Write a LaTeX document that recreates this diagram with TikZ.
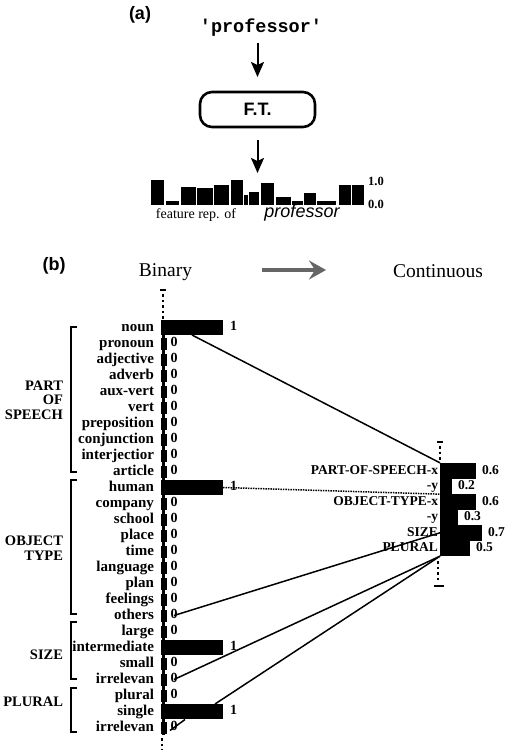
\documentclass[tikz,border=0pt]{standalone}
\usepackage{fontspec}
\setmainfont{Liberation Serif}
\setmonofont{Liberation Mono}
\newfontfamily\sansf{Liberation Sans}
\usetikzlibrary{arrows.meta}
\begin{document}
\begin{tikzpicture}[x=1pt,y=-1pt,
  every node/.style={inner sep=0pt,outer sep=0pt},
  rowlab/.style={anchor=east,font=\bfseries\fontsize{15}{15}\selectfont,text height=10pt,text depth=3pt},
  vallab/.style={anchor=west,font=\bfseries\fontsize{14}{14}\selectfont,text height=9.5pt,text depth=3pt},
  grplab/.style={anchor=east,align=right,font=\bfseries\fontsize{14.5}{14.5}\selectfont},
  onebar/.style={anchor=west,fill=black,minimum width=62pt,minimum height=15pt},
  zerobar/.style={anchor=west,fill=black,minimum width=5.5pt,minimum height=12pt},
  rbar/.style={anchor=west,fill=black,minimum height=15.8pt},
  rlab/.style={anchor=east,font=\bfseries\fontsize{13.5}{13.5}\selectfont,text height=9pt,text depth=2.5pt},
  rval/.style={anchor=west,font=\bfseries\fontsize{13.5}{14}\selectfont,text height=9pt,text depth=2pt},
  conn/.style={line width=1.5pt,black},
  bracketline/.style={line width=2pt,black},
  dotaxis/.style={line width=2.2pt,dash pattern=on 2.5pt off 3pt},
  arr/.style={line width=2pt,-{Stealth[length=15pt,width=13pt,inset=3pt]}},
  title/.style={font=\fontsize{19.5}{20}\selectfont},
  plab/.style={font=\sansf\bfseries\fontsize{18}{18}\selectfont}
]
\useasboundingbox (0,0) rectangle (506,750);
\fill[white] (0,0) rectangle (506,750);

% ---------------- (a) ----------------
\node[plab] (alab) at (140,15) {(a)};
\node[font=\ttfamily\bfseries\fontsize{18.5}{19}\selectfont,text height=12pt,text depth=4pt] (word) at (261,28) {'professor'};
\node[draw,line width=2.6pt,rounded corners=12pt,minimum width=115pt,minimum height=35pt,
      font=\sansf\bfseries\fontsize{18}{18}\selectfont] (ft) at (257.5,109.5) {F.T.};
\coordinate (feat) at (258,179);
\draw[arr,shorten <=7pt,shorten >=15pt] (word.south -| ft.north) -- (ft.north);
\draw[arr,shorten <=13pt,shorten >=6pt] (ft.south) -- (ft.south |- feat);
\foreach \xa/\xb/\h in {150/165/1.0,165/180/0.16,180/196.7/0.7,196.7/213.3/0.65,213.3/230/0.78,
  230/243.3/1.0,243.3/248.3/0.37,248.3/260/0.5,260/275/0.87,275/291.7/0.3,291.7/303.3/0.16,
  303.3/316.7/0.45,316.7/336.7/0.16,338.3/351.7/0.78,351.7/365/0.78}
  \fill ({\xa+0.6},204.5) rectangle ({\xb-0.6},{204.5-25*\h});
\node[font=\bfseries\fontsize{12.5}{12.5}\selectfont] (one) at (376,181) {1.0};
\node[font=\bfseries\fontsize{12.5}{12.5}\selectfont] (zero) at (376,204) {0.0};
\node[font=\fontsize{14}{14}\selectfont] (frep) at (196,215) {feature rep. of};
\node[font=\sansf\itshape\fontsize{18}{18}\selectfont] (fword) at (302,213) {professor};

% ---------------- (b) ----------------
\node[plab] (blab) at (54,266) {(b)};
\node[title] (bin) at (165.5,272) {Binary};
\node[title] (cont) at (438,271) {Continuous};
\coordinate (ga1) at (262,270);
\coordinate (ga2) at (326,270);
\draw[line width=4.5pt,black!60,-{Stealth[length=17pt,width=19pt,inset=6pt]}] (ga1) -- (ga2);

% left axis
\draw[dotaxis] (163,294) -- (163,320);
\draw[line width=2pt] (160,290) -- (166,290);
\draw[line width=3.2pt] (163.5,320) -- (163.5,735);
\draw[dotaxis] (162,738) -- (162,752);

\foreach \i/\t/\v in {0/noun/1,1/pronoun/0,2/adjective/0,3/adverb/0,4/aux-vert/0,5/vert/0,
  6/preposition/0,7/conjunction/0,8/interjectior/0,9/article/0,10/human/1,11/company/0,
  12/school/0,13/place/0,14/time/0,15/language/0,16/plan/0,17/feelings/0,18/others/0,
  19/large/0,20/intermediate/1,21/small/0,22/irrelevan/0,23/plural/0,24/single/1,25/irrelevan/0}{
  \node[rowlab] (l\i) at (154,{327.5+16*\i}) {\t};
  \ifnum\v=1
    \node[onebar] (b\i) at (161,{327.5+16*\i}) {};
    \node[vallab,xshift=7pt] (v\i) at (b\i.east) {1};
  \else
    \node[zerobar] (b\i) at (161,{327.5+16*\i}) {};
    \node[vallab,xshift=4pt] (v\i) at (b\i.east) {0};
  \fi
}

% group brackets
\draw[bracketline] (77,327) -- (71,327) -- (71,472) -- (77,472);
\draw[bracketline] (77,480) -- (71,480) -- (71,614) -- (77,614);
\draw[bracketline] (77,622) -- (71,622) -- (71,679) -- (77,679);
\draw[bracketline] (77,688) -- (71,688) -- (71,732) -- (77,732);
\node[grplab] (gpos) at (63,400) {PART\\OF\\SPEECH};
\node[grplab] (gobj) at (63,548) {OBJECT\\TYPE};
\node[grplab] (gsize) at (63,655) {SIZE};
\node[grplab] (gplur) at (63,702) {PLURAL};

% right axis and bars
\draw[line width=2pt] (437,442) -- (443,442);
\draw[dotaxis] (440,446) -- (440,462);
\draw[dotaxis] (438,561) -- (438,582);
\draw[line width=2pt] (434,586) -- (444,586);
\foreach \j/\t/\v/\w in {0/PART-OF-SPEECH-x/0.6/36,1/-y/0.2/12,2/OBJECT-TYPE-x/0.6/36,
  3/-y/0.3/18,4/SIZE/0.7/42,5/PLURAL/0.5/30}{
  \node[rbar,minimum width=\w pt] (r\j) at (440,{470.75+15.5*\j}) {};
  \node[rlab] (rl\j) at (438,{470.75+15.5*\j}) {\t};
  \node[rval,xshift=6pt] (rv\j) at (r\j.east) {\v};
}

% connectors
\draw[conn] (b0.south) -- (r0.north west);
\draw[conn,densely dotted] (b10.east) -- (r1.south west);
\draw[conn] (v18.center) -- (r4.west);
\draw[conn] (v22.center) -- (r5.south west);
\draw[conn] ([xshift=-8pt]b24.north east) -- (r5.south west);
\draw[conn] ([shift={(-4,3)}]v25.center) -- ([shift={(11,-8)}]v25.center);
\end{tikzpicture}
\end{document}
